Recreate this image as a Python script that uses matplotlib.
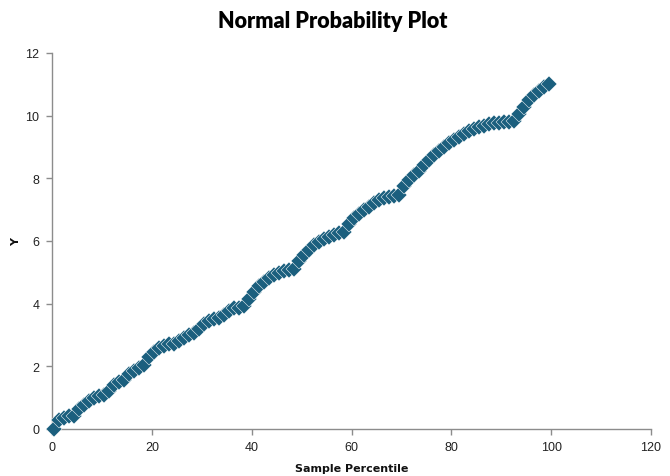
import matplotlib
matplotlib.use("Agg")
import matplotlib.pyplot as plt

percentiles = [0.5, 1.5, 2.5, 3.5, 4.5, 5.5, 6.5, 7.5, 8.5, 9.5,
               10.5, 11.5, 12.5, 13.5, 14.5, 15.5, 16.5, 17.5, 18.5, 19.5,
               20.5, 21.5, 22.5, 23.5, 24.5, 25.5, 26.5, 27.5, 28.5, 29.5,
               30.5, 31.5, 32.5, 33.5, 34.5, 35.5, 36.5, 37.5, 38.5, 39.5,
               40.5, 41.5, 42.5, 43.5, 44.5, 45.5, 46.5, 47.5, 48.5, 49.5,
               50.5, 51.5, 52.5, 53.5, 54.5, 55.5, 56.5, 57.5, 58.5, 59.5,
               60.5, 61.5, 62.5, 63.5, 64.5, 65.5, 66.5, 67.5, 68.5, 69.5,
               70.5, 71.5, 72.5, 73.5, 74.5, 75.5, 76.5, 77.5, 78.5, 79.5,
               80.5, 81.5, 82.5, 83.5, 84.5, 85.5, 86.5, 87.5, 88.5, 89.5,
               90.5, 91.5, 92.5, 93.5, 94.5, 95.5, 96.5, 97.5, 98.5, 99.5]

y_values = [0.00, 0.28, 0.35, 0.42, 0.42, 0.65, 0.78, 0.88, 1.00, 1.05,
            1.10, 1.22, 1.42, 1.50, 1.55, 1.75, 1.85, 1.95, 2.05, 2.30,
            2.45, 2.58, 2.65, 2.70, 2.72, 2.80, 2.92, 3.00, 3.05, 3.20,
            3.35, 3.45, 3.52, 3.55, 3.65, 3.78, 3.85, 3.87, 3.92, 4.15,
            4.38, 4.55, 4.70, 4.82, 4.90, 4.97, 5.03, 5.07, 5.12, 5.35,
            5.55, 5.72, 5.87, 5.97, 6.05, 6.12, 6.20, 6.25, 6.28, 6.55,
            6.72, 6.85, 6.98, 7.10, 7.22, 7.32, 7.38, 7.42, 7.45, 7.48,
            7.75, 7.95, 8.10, 8.25, 8.42, 8.60, 8.75, 8.88, 9.00, 9.12,
            9.22, 9.32, 9.42, 9.50, 9.57, 9.63, 9.68, 9.72, 9.76, 9.78,
            9.80, 9.80, 9.82, 10.05, 10.28, 10.50, 10.65, 10.80, 10.92, 11.00]

x_ticks = [0, 20, 40, 60, 80, 100, 120]
y_ticks = [0, 2, 4, 6, 8, 10, 12]

title = "Normal Probability Plot"
x_label = "Sample Percentile"
y_label = "Y"

color = "#1B5F7E"
axis_color = "#8C8C8C"

fig = plt.figure(figsize=(6.7, 4.77), dpi=100)
ax = fig.add_axes([52/670, 1 - 430/477, (651-52)/670, (430-54)/477])

ax.plot(percentiles, y_values, linestyle="none", marker="D", markersize=8.3,
        markerfacecolor=color, markeredgecolor="white", markeredgewidth=0.35,
        clip_on=False, zorder=3)

ax.set_xlim(0, 120)
ax.set_ylim(0, 12)
ax.set_xticks(x_ticks)
ax.set_yticks(y_ticks)
ax.set_xticklabels([str(t) for t in x_ticks], family="Liberation Sans")
ax.set_yticklabels([str(t) for t in y_ticks], family="Liberation Sans")

for s in ["top", "right"]:
    ax.spines[s].set_visible(False)
for s in ["left", "bottom"]:
    ax.spines[s].set_color(axis_color)
    ax.spines[s].set_linewidth(1.0)

ax.tick_params(axis="both", colors=axis_color, labelcolor="#222222",
               labelsize=9, length=4, width=1.0, direction="out")
ax.tick_params(axis="x", pad=5)
ax.tick_params(axis="y", pad=5)

ax.set_xlabel(x_label, fontsize=8, fontweight="bold", color="#111111", labelpad=7)
ax.set_ylabel(y_label, fontsize=8, fontweight="bold", color="#111111", labelpad=3)

fig.text(333/670, 1 - 22/477, title, ha="center", va="center",
         fontsize=15.5, fontweight="heavy", color="#000000", family="Lato")

fig.savefig("out.png", dpi=100)
